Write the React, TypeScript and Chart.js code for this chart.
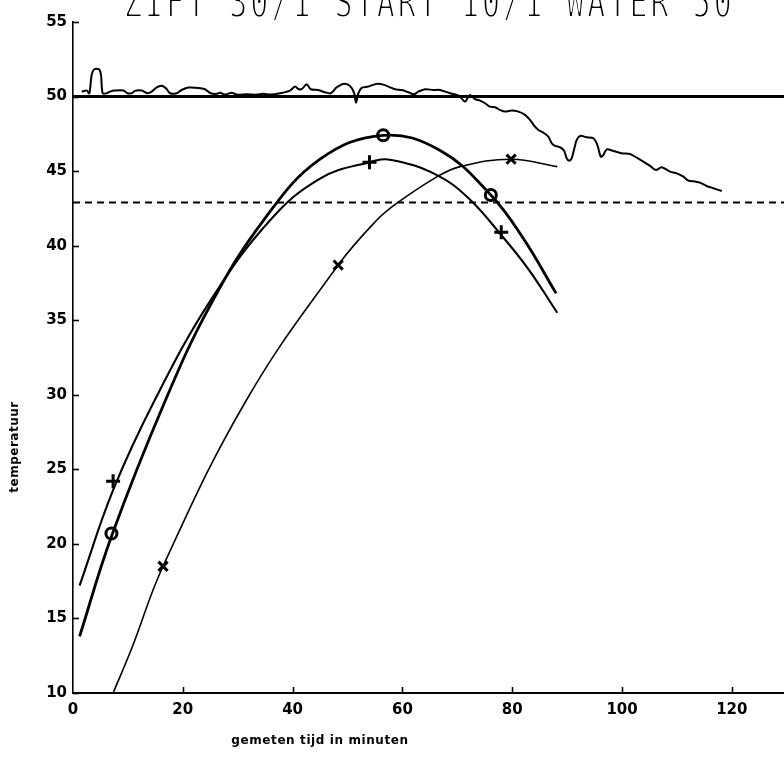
import React, { useEffect, useRef } from 'react';
import { Chart, registerables } from 'chart.js';

Chart.register(...registerables);

// ---- text ----
const TITLE = 'ZIFT 30/1 START 10/1 WATER 50';
const X_TITLE = 'gemeten tijd in minuten';
const Y_TITLE = 'temperatuur';

// ---- axes ----
const X_MIN = 0;
const X_MAX = 129.5;
const Y_MIN = 10;
const Y_MAX = 55;
const X_TICKS = [0, 20, 40, 60, 80, 100, 120];
const Y_TICKS = [10, 15, 20, 25, 30, 35, 40, 45, 50, 55];

// ---- reference lines ----
const setLineX = [0, 130];
const setLineY = [50, 50];
const dashLineX = [0, 130];
const dashLineY = [42.9, 42.9];

// ---- measured water temperature (noisy trace) ----
const traceMinutes = [
  1.58, 2.49, 2.98, 3.4, 3.89, 4.74, 5.1, 5.4, 6.13, 6.74, 7.65, 9.17, 9.96, 10.69, 11.29, 12.51,
  13.54, 14.33, 15.24, 16.15, 16.94, 17.67, 18.88, 19.79, 21.01, 22.83, 24.04, 25.08, 26.17, 26.78,
  27.69, 28.9, 29.81, 31.63, 33.45, 34.67, 35.88, 37.7, 39.53, 40.44, 41.04, 41.65, 42.56, 43.29,
  44.69, 45.9, 46.93, 48.03, 49.24, 50.46, 51.18, 51.55, 51.97, 52.58, 53.79, 55.31, 56.53, 57.74,
  58.65, 59.87, 61.08, 62.11, 62.9, 64.12, 65.63, 66.85, 68.67, 69.89, 70.49, 71.4, 72.31, 73.22,
  74.14, 75.05, 75.96, 76.87, 77.78, 78.69, 79.9, 81.12, 82.33, 83.24, 84.15, 84.76, 85.67, 86.58,
  87.19, 87.8, 88.71, 89.44, 89.92, 90.35, 90.83, 91.32, 91.74, 92.35, 93.56, 94.78, 95.51, 96.12,
  96.6, 97.21, 98.42, 99.94, 101.46, 102.67, 103.89, 105.1, 106.19, 107.23, 108.74, 109.96, 111.17,
  112.08, 113.3, 114.21, 115.42, 116.64, 118.16,
];
const traceTemps = [
  50.33, 50.4, 50.22, 51.45, 51.83, 51.83, 51.45, 50.22, 50.22, 50.33, 50.4, 50.4, 50.22, 50.22, 50.38, 50.4,
  50.22, 50.33, 50.62, 50.73, 50.55, 50.22, 50.22, 50.44, 50.6, 50.58, 50.49, 50.22, 50.18, 50.26,
  50.13, 50.26, 50.13, 50.15, 50.13, 50.18, 50.13, 50.22, 50.4, 50.67, 50.51, 50.49, 50.82, 50.49,
  50.44, 50.29, 50.22, 50.62, 50.85, 50.71, 50.26, 49.59, 50.22, 50.58, 50.67, 50.85, 50.8, 50.62,
  50.49, 50.44, 50.29, 50.15, 50.33, 50.49, 50.44, 50.44, 50.22, 50.11, 49.99, 49.66, 50.11, 49.82,
  49.73, 49.55, 49.32, 49.28, 49.1, 48.99, 49.06, 48.99, 48.77, 48.43, 47.98, 47.76, 47.58, 47.31,
  46.87, 46.69, 46.6, 46.37, 45.86, 45.7, 45.86, 46.53, 47.09, 47.36, 47.27, 47.2, 46.75, 45.97,
  46.08, 46.46, 46.35, 46.2, 46.15, 45.9, 45.64, 45.35, 45.08, 45.26, 44.97, 44.85, 44.63,
  44.36, 44.3, 44.23, 44.0, 43.85, 43.67,
];

// ---- fitted curves ----
const oCurveMinutes = [1.2, 7, 16.8, 25, 34.7, 45, 56.5, 66.8, 76.1, 82, 88];
const oCurveTemps = [13.8, 20.5, 29.6, 36.0, 41.7, 45.8, 47.4, 46.4, 43.4, 40.5, 36.8];

const plusCurveMinutes = [1.2, 7.3, 14.9, 25, 35.9, 45, 54, 58, 66.2, 72, 77.8, 83, 88.2];
const plusCurveTemps = [17.2, 23.6, 29.65, 36.3, 41.7, 44.5, 45.6, 45.75, 44.75, 43.2, 40.8, 38.4, 35.5];

const xCurveMinutes = [7.3, 10.7, 16.4, 31.6, 48.3, 55.3, 59, 66.2, 70.5, 79.8, 88.2];
const xCurveTemps = [10, 13.0, 18.5, 29.65, 38.7, 41.7, 42.85, 44.6, 45.3, 45.8, 45.3];

// ---- measured points ----
const oPointMinutes = [7, 56.5, 76.1];
const oPointTemps = [20.7, 47.4, 43.4];
const plusPointMinutes = [7.3, 54, 78];
const plusPointTemps = [24.2, 45.6, 40.9];
const xPointMinutes = [16.4, 48.3, 79.8];
const xPointTemps = [18.5, 38.7, 45.8];

const pts = (xs: number[], ys: number[]) => xs.map((x, i) => ({ x, y: ys[i] }));

const overlayPlugin = {
  id: 'overlay',
  afterDraw(chart: any) {
    const ctx = chart.ctx as CanvasRenderingContext2D;
    const xs = chart.scales.x;
    const ys = chart.scales.y;
    const { left, bottom } = chart.chartArea;
    ctx.save();
    ctx.strokeStyle = '#000';
    ctx.lineWidth = 1.6;
    // inward tick marks
    Y_TICKS.forEach((v) => {
      const py = Math.round(ys.getPixelForValue(v)) + 0.5;
      ctx.beginPath();
      ctx.moveTo(left, py);
      ctx.lineTo(left + 6, py);
      ctx.stroke();
    });
    X_TICKS.forEach((v) => {
      if (v === 0) return;
      const px = Math.round(xs.getPixelForValue(v)) + 0.5;
      ctx.beginPath();
      ctx.moveTo(px, bottom);
      ctx.lineTo(px, bottom - 6);
      ctx.stroke();
    });
    // title (cut off at the top edge), thinned by a white outline
    ctx.save();
    ctx.font = '30px "DejaVu Sans Mono"';
    (ctx as any).letterSpacing = '3px';
    ctx.textAlign = 'left';
    ctx.textBaseline = 'alphabetic';
    ctx.translate(124, 17);
    ctx.scale(1, 1.45);
    ctx.fillStyle = '#000';
    ctx.fillText(TITLE, 0, 0);
    ctx.strokeStyle = '#fff';
    ctx.lineWidth = 1.3;
    ctx.lineJoin = 'round';
    ctx.strokeText(TITLE, 0, 0);
    ctx.restore();
    ctx.fillStyle = '#000';
    // y title
    ctx.save();
    ctx.font = 'bold 12px "DejaVu Sans"';
    (ctx as any).letterSpacing = '0.5px';
    ctx.textAlign = 'center';
    ctx.textBaseline = 'middle';
    ctx.translate(15, 447);
    ctx.rotate(-Math.PI / 2);
    ctx.fillText(Y_TITLE, 0, 0);
    ctx.restore();
    // x title
    ctx.save();
    ctx.font = 'bold 12px "DejaVu Sans"';
    (ctx as any).letterSpacing = '0.6px';
    ctx.textAlign = 'center';
    ctx.textBaseline = 'middle';
    ctx.fillText(X_TITLE, 320, 741);
    ctx.restore();
    ctx.restore();
  },
};

export default function App() {
  const ref = useRef<HTMLCanvasElement | null>(null);

  useEffect(() => {
    if (!ref.current) return;
    const black = '#000';
    const chart = new Chart(ref.current, {
      type: 'scatter',
      data: {
        datasets: [
          { data: pts(setLineX, setLineY), showLine: true, borderColor: black, borderWidth: 3, pointRadius: 0 },
          { data: pts(dashLineX, dashLineY), showLine: true, borderColor: black, borderWidth: 2, borderDash: [7, 5], pointRadius: 0 },
          { data: pts(traceMinutes, traceTemps), showLine: true, borderColor: black, borderWidth: 2, tension: 0.3, pointRadius: 0 },
          { data: pts(oCurveMinutes, oCurveTemps), showLine: true, borderColor: black, borderWidth: 2.8, tension: 0.4, pointRadius: 0 },
          { data: pts(plusCurveMinutes, plusCurveTemps), showLine: true, borderColor: black, borderWidth: 2.1, tension: 0.4, pointRadius: 0 },
          { data: pts(xCurveMinutes, xCurveTemps), showLine: true, borderColor: black, borderWidth: 1.6, tension: 0.4, pointRadius: 0 },
          { data: pts(oPointMinutes, oPointTemps), showLine: false, pointStyle: 'circle', pointRadius: 5.5, borderColor: black, backgroundColor: 'rgba(0,0,0,0)', borderWidth: 3 },
          { data: pts(plusPointMinutes, plusPointTemps), showLine: false, pointStyle: 'cross', pointRadius: 7, borderColor: black, borderWidth: 3 },
          { data: pts(xPointMinutes, xPointTemps), showLine: false, pointStyle: 'crossRot', pointRadius: 6.5, borderColor: black, borderWidth: 3 },
        ] as any,
      },
      options: {
        animation: false,
        responsive: false,
        maintainAspectRatio: false,
        layout: { autoPadding: false, padding: { top: 22, left: 0, right: 0, bottom: 0 } },
        plugins: { legend: { display: false }, tooltip: { enabled: false }, title: { display: false } },
        scales: {
          x: {
            type: 'linear',
            min: X_MIN,
            max: X_MAX,
            afterBuildTicks: (s: any) => { s.ticks = X_TICKS.map((v) => ({ value: v })); },
            afterFit: (s: any) => { s.height = 68; s.paddingLeft = 0; s.paddingRight = 0; },
            ticks: { color: black, padding: 8, font: { family: 'DejaVu Sans', size: 15, weight: 'bold' }, maxRotation: 0 },
            grid: { display: true, drawOnChartArea: false, drawTicks: false },
            border: { display: true, color: black, width: 2 },
          },
          y: {
            type: 'linear',
            min: Y_MIN,
            max: Y_MAX,
            afterBuildTicks: (s: any) => { s.ticks = Y_TICKS.map((v) => ({ value: v })); },
            afterFit: (s: any) => { s.width = 73; s.paddingTop = 0; s.paddingBottom = 0; },
            ticks: { color: black, padding: 6, font: { family: 'DejaVu Sans', size: 15, weight: 'bold' } },
            grid: { display: true, drawOnChartArea: false, drawTicks: false },
            border: { display: true, color: black, width: 1.6 },
          },
        },
      } as any,
      plugins: [overlayPlugin],
    });
    return () => chart.destroy();
  }, []);

  return (
    <div style={{ position: 'fixed', left: 0, top: 0, width: 784, height: 761, background: '#fff' }}>
      <canvas ref={ref} width={784} height={761} style={{ display: 'block' }} />
    </div>
  );
}
